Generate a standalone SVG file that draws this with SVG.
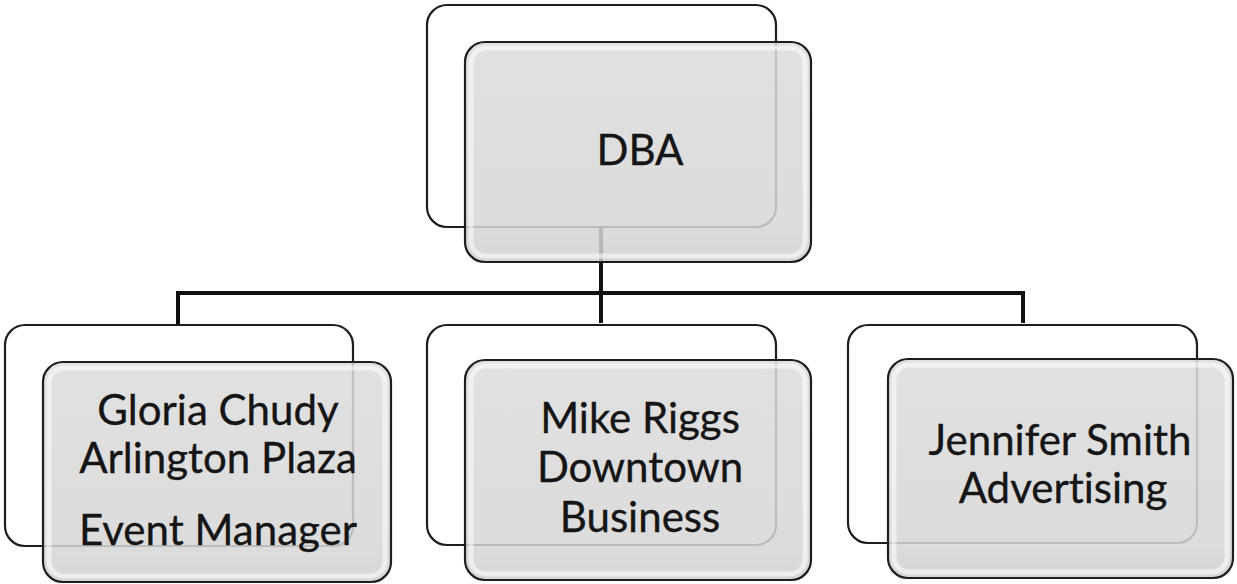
<svg xmlns="http://www.w3.org/2000/svg" width="1237" height="584" viewBox="0 0 1237 584">
  <style>
    .back { fill: #ffffff; stroke: #1e1e1e; stroke-width: 2.2; }
    .front { fill: url(#bevel); fill-opacity: 0.86; stroke: #1e1e1e; stroke-width: 2.2; }
    .rim { fill: none; stroke: #ffffff; stroke-opacity: 0.55; stroke-width: 5; }
    .wire { fill: none; stroke: #111111; stroke-width: 4; stroke-linejoin: miter; }
    .label { font-family: Lato, "Liberation Sans", sans-serif; font-size: 42px; font-variant-ligatures: none; fill: #151515; stroke: #151515; stroke-width: 0.35; text-anchor: middle; }
  </style>
  <defs>
    <linearGradient id="bevel" x1="0" y1="0" x2="0" y2="1">
      <stop offset="0" stop-color="#dcdcdc"/>
      <stop offset="0.85" stop-color="#d6d6d6"/>
      <stop offset="1" stop-color="#cfcfcf"/>
    </linearGradient>
  </defs>
  <rect width="1237" height="584" fill="#ffffff"/>

  <!-- connectors: trunk from the top box, bus bar, and drops to each child -->
  <g id="connectors">
    <path class="wire" d="M601 227 V323"/>
    <path class="wire" d="M178 324 V293 H1023 V323"/>
  </g>

  <g id="node-dba">
    <rect class="back" x="427" y="5" width="349" height="222" rx="20"/>
    <rect class="front" x="465" y="42" width="346" height="220" rx="20"/>
    <rect class="rim" x="471" y="48" width="334" height="208" rx="15"/>
    <text class="label" x="640" y="165">DBA</text>
  </g>

  <g id="node-gloria">
    <rect class="back" x="5" y="325" width="348" height="221" rx="20"/>
    <rect class="front" x="43" y="362" width="348" height="220" rx="20"/>
    <rect class="rim" x="49" y="368" width="336" height="208" rx="15"/>
    <text class="label" x="218" y="425">Gloria Chudy</text>
    <text class="label" x="218" y="473">Arlington Plaza</text>
    <text class="label" x="218" y="545">Event Manager</text>
  </g>

  <g id="node-mike">
    <rect class="back" x="427" y="325" width="349" height="220" rx="20"/>
    <rect class="front" x="465" y="360" width="346" height="220" rx="20"/>
    <rect class="rim" x="471" y="366" width="334" height="208" rx="15"/>
    <text class="label" x="640" y="433">Mike Riggs</text>
    <text class="label" x="640" y="482">Downtown</text>
    <text class="label" x="640" y="532">Business</text>
  </g>

  <g id="node-jennifer">
    <rect class="back" x="848" y="325" width="349" height="218" rx="20"/>
    <rect class="front" x="888" y="359" width="345" height="219" rx="20"/>
    <rect class="rim" x="894" y="365" width="333" height="207" rx="15"/>
    <text class="label" x="1060" y="455">Jennifer Smith</text>
    <text class="label" x="1063" y="503">Advertising</text>
  </g>
</svg>
